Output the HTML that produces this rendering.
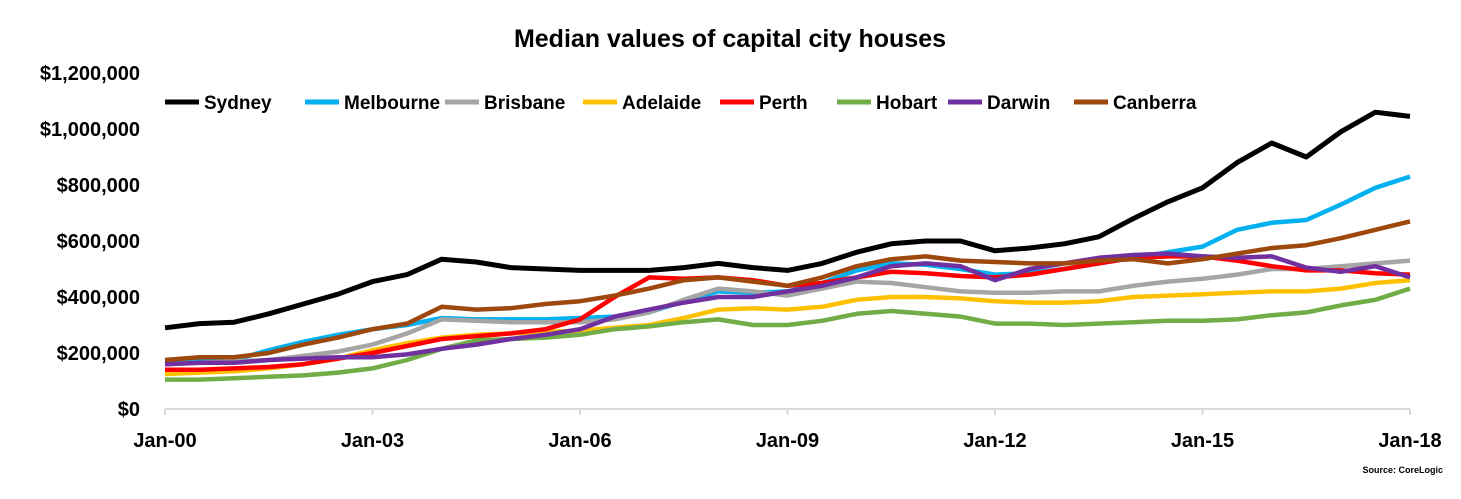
<!DOCTYPE html>
<html><head><meta charset="utf-8"><style>
body{margin:0;background:#fff;font-family:"Liberation Sans",sans-serif;}
svg text{font-family:"Liberation Sans",sans-serif;font-weight:bold;}
</style></head><body>
<svg id="chart" width="1461" height="494" xmlns="http://www.w3.org/2000/svg">
<text x="730" y="47" text-anchor="middle" font-size="25" fill="#000">Median values of capital city houses</text>
<g id="yaxis"></g><g id="xaxis"></g><g id="lines"></g><g id="legend"></g>
<text x="1443" y="473" text-anchor="end" font-size="9" fill="#000">Source: CoreLogic</text>
</svg>
<script>
const years=[];for(let i=0;i<37;i++)years.push(2000+i*0.5);
const yTicks=[0,200,400,600,800,1000,1200];
const yTickLabels=["$0","$200,000","$400,000","$600,000","$800,000","$1,000,000","$1,200,000"];
const xTicks=[2000,2003,2006,2009,2012,2015,2018];
const xTickLabels=["Jan-00","Jan-03","Jan-06","Jan-09","Jan-12","Jan-15","Jan-18"];
const seriesNames=["Sydney","Melbourne","Brisbane","Adelaide","Perth","Hobart","Darwin","Canberra"];
const seriesColors=["#000000","#00b0f0","#a5a5a5","#ffc000","#ff0000","#70ad47","#7030a0","#9e480e"];
const sydney=[290,305,310,340,375,410,455,480,535,525,505,500,495,495,495,505,520,505,495,520,560,590,600,600,565,575,590,615,680,740,790,880,950,900,990,1060,1045];
const melbourne=[165,170,175,210,240,265,285,300,325,320,320,320,325,330,345,385,420,415,420,450,495,520,515,500,480,485,500,520,540,560,580,640,665,675,730,790,830];
const brisbane=[160,165,170,175,190,205,230,270,320,315,310,310,310,320,345,390,430,420,405,430,455,450,435,420,415,415,420,420,440,455,465,480,500,500,510,520,530];
const adelaide=[125,130,135,145,160,180,210,235,255,265,270,275,280,290,300,325,355,360,355,365,390,400,400,395,385,380,380,385,400,405,410,415,420,420,430,450,460];
const perth=[140,140,145,150,160,180,200,225,250,260,270,285,320,400,470,465,470,460,440,450,470,490,485,475,470,480,500,520,540,545,545,530,510,495,495,485,480];
const hobart=[105,105,110,115,120,130,145,175,215,245,250,255,265,285,295,310,320,300,300,315,340,350,340,330,305,305,300,305,310,315,315,320,335,345,370,390,430];
const darwin=[160,165,165,175,180,185,185,195,215,230,250,265,285,330,355,380,400,400,420,440,470,510,520,510,460,500,520,540,550,555,545,540,545,505,490,510,470];
const canberra=[175,185,185,200,230,255,285,305,365,355,360,375,385,405,430,460,470,455,440,470,510,535,545,530,525,520,520,530,535,520,535,555,575,585,610,640,670];
const allSeries=[sydney,melbourne,brisbane,adelaide,perth,hobart,darwin,canberra];
const X0=165,X1=1410,Y0=409,Y1=73;
const xs=v=>X0+(v-2000)/18*(X1-X0);
const ys=v=>Y0-v/1200*(Y0-Y1);
const NS="http://www.w3.org/2000/svg";
function mk(t,a,p){const e=document.createElementNS(NS,t);for(const k in a)e.setAttribute(k,a[k]);p.appendChild(e);return e;}
const ya=document.getElementById('yaxis'),xa=document.getElementById('xaxis'),lg=document.getElementById('lines'),le=document.getElementById('legend');
yTicks.forEach((v,i)=>{const t=mk('text',{x:140,y:ys(v)+7,'text-anchor':'end','font-size':20,fill:'#000'},ya);t.textContent=yTickLabels[i];

});
const ax=mk('line',{x1:X0,x2:X1,y1:Y0,y2:Y0,stroke:'#d9d9d9','stroke-width':2},xa);


xTicks.forEach((v,i)=>{const tk=mk('line',{x1:xs(v),x2:xs(v),y1:Y0,y2:Y0+6,stroke:'#d9d9d9','stroke-width':2},xa);


const t=mk('text',{x:xs(v),y:447,'text-anchor':'middle','font-size':20,fill:'#000'},xa);t.textContent=xTickLabels[i];

});
allSeries.forEach((s,k)=>{const d=s.map((v,i)=>(i?'L':'M')+xs(years[i]).toFixed(1)+','+ys(v).toFixed(1)).join('');
const p=mk('path',{d:d,fill:'none',stroke:seriesColors[k],'stroke-width':k==0?5:4.5,'stroke-linejoin':'round'},lg);

});
const lx=[165,305,445,583,720,837,948,1074];
seriesNames.forEach((n,k)=>{const g=mk('g',{},le);


mk('line',{x1:lx[k],x2:lx[k]+34,y1:102,y2:102,stroke:seriesColors[k],'stroke-width':5},g);
const t=mk('text',{x:lx[k]+39,y:109,'font-size':19,fill:'#000'},g);t.textContent=n;});
</script>
</body></html>
